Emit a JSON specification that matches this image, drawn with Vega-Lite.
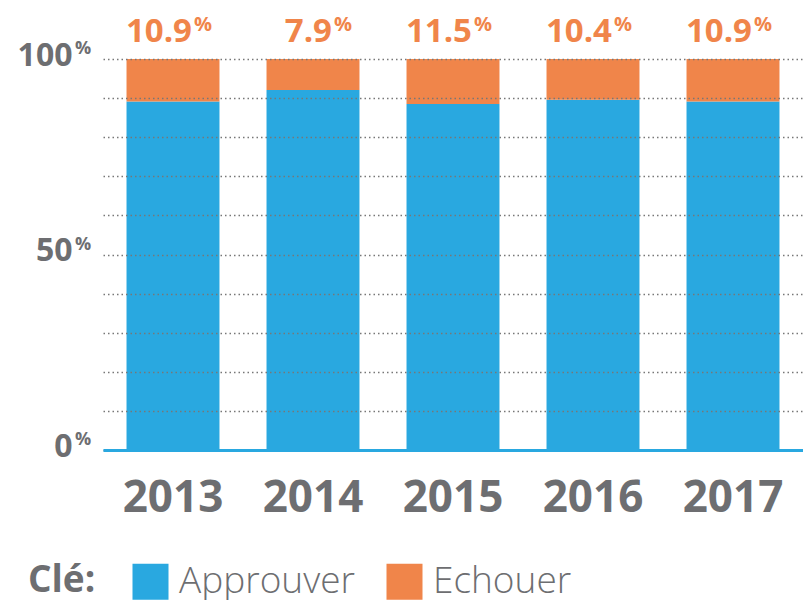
{
  "$schema": "https://vega.github.io/schema/vega-lite/v6.json",
  "width": 700,
  "height": 391,
  "autosize": "none",
  "padding": {"left": 103, "top": 59, "right": 0, "bottom": 150},
  "background": "white",
  "config": {"view": {"stroke": null}, "font": "Open Sans"},
  "datasets": {
    "bars": [
      {"year": "2013", "status": "Approuver", "value": 89.1},
      {"year": "2013", "status": "Echouer", "value": 10.9},
      {"year": "2014", "status": "Approuver", "value": 92.1},
      {"year": "2014", "status": "Echouer", "value": 7.9},
      {"year": "2015", "status": "Approuver", "value": 88.5},
      {"year": "2015", "status": "Echouer", "value": 11.5},
      {"year": "2016", "status": "Approuver", "value": 89.6},
      {"year": "2016", "status": "Echouer", "value": 10.4},
      {"year": "2017", "status": "Approuver", "value": 89.1},
      {"year": "2017", "status": "Echouer", "value": 10.9}
    ],
    "ticks": [{"tick": 0}, {"tick": 50}, {"tick": 100}]
  },
  "layer": [
    {
      "data": {"name": "bars"},
      "mark": {"type": "bar"},
      "encoding": {
        "x": {
          "field": "year", "type": "nominal",
          "scale": {"paddingInner": 0.336, "paddingOuter": 0.168},
          "axis": {"title": null, "labelAngle": 0, "labelFont": "Open Sans", "labelFontWeight": "bold", "labelFontSize": 44, "labelColor": "#6d6e71", "labelPadding": 26, "ticks": false, "domainColor": "#29a8e0", "domainWidth": 3, "zindex": 1}
        },
        "y": {
          "field": "value", "type": "quantitative", "stack": "zero",
          "scale": {"domain": [0, 100], "nice": false},
          "axis": {"title": null, "values": [0, 10, 20, 30, 40, 50, 60, 70, 80, 90, 100], "labelExpr": "datum.value % 50 == 0 ? datum.label : ''", "labelOverlap": false, "domain": false, "ticks": false, "gridDash": [1.5, 3], "gridColor": "#777777", "gridWidth": 1.3, "labelFontSize": 32, "labelFontWeight": "bold", "labelColor": "#6d6e71", "labelPadding": 31, "labelOffset": -4, "zindex": 1}
        },
        "color": {
          "field": "status", "type": "nominal",
          "scale": {"domain": ["Approuver", "Echouer"], "range": ["#29a8e0", "#f0854a"]},
          "legend": {"orient": "none", "legendX": -75, "legendY": 504, "direction": "horizontal", "title": "Clé:", "titleOrient": "left", "titleFontSize": 37, "titleFontWeight": "bold", "titleColor": "#6d6e71", "titlePadding": 36, "symbolType": "square", "symbolSize": 1296, "symbolStrokeWidth": 0, "symbolOpacity": 1, "labelFontSize": 37, "labelFontWeight": 300, "labelColor": "#6d6e71", "labelOffset": 10, "columnPadding": 31, "padding": 0, "labelLimit": 300}
        },
        "order": {"field": "status", "sort": "ascending"}
      }
    },
    {
      "data": {"name": "bars"},
      "transform": [{"filter": "datum.status == 'Echouer'"}],
      "mark": {"type": "text", "font": "Open Sans", "fontWeight": "bold", "fontSize": 33, "color": "#f0854a", "dx": 19, "dy": -27, "baseline": "middle", "align": "right"},
      "encoding": {
        "x": {
          "field": "year", "type": "nominal",
          "axis": {"title": null, "labelAngle": 0, "labelFont": "Open Sans", "labelFontWeight": "bold", "labelFontSize": 44, "labelColor": "#6d6e71", "labelPadding": 26, "ticks": false, "domainColor": "#29a8e0", "domainWidth": 3, "zindex": 1}
        },
        "y": {
          "datum": 100, "type": "quantitative",
          "axis": {"title": null, "values": [0, 10, 20, 30, 40, 50, 60, 70, 80, 90, 100], "labelExpr": "datum.value % 50 == 0 ? datum.label : ''", "labelOverlap": false, "domain": false, "ticks": false, "gridDash": [1.5, 3], "gridColor": "#777777", "gridWidth": 1.3, "labelFontSize": 32, "labelFontWeight": "bold", "labelColor": "#6d6e71", "labelPadding": 31, "labelOffset": -4, "zindex": 1}
        },
        "text": {"field": "value", "type": "quantitative", "format": ".1f"}
      }
    },
    {
      "data": {"name": "bars"},
      "transform": [{"filter": "datum.status == 'Echouer'"}],
      "mark": {"type": "text", "font": "Open Sans", "fontWeight": "bold", "fontSize": 20, "color": "#f0854a", "dx": 21, "dy": -34, "baseline": "middle", "align": "left", "text": "%"},
      "encoding": {
        "x": {
          "field": "year", "type": "nominal",
          "axis": {"title": null, "labelAngle": 0, "labelFont": "Open Sans", "labelFontWeight": "bold", "labelFontSize": 44, "labelColor": "#6d6e71", "labelPadding": 26, "ticks": false, "domainColor": "#29a8e0", "domainWidth": 3, "zindex": 1}
        },
        "y": {
          "datum": 100, "type": "quantitative",
          "axis": {"title": null, "values": [0, 10, 20, 30, 40, 50, 60, 70, 80, 90, 100], "labelExpr": "datum.value % 50 == 0 ? datum.label : ''", "labelOverlap": false, "domain": false, "ticks": false, "gridDash": [1.5, 3], "gridColor": "#777777", "gridWidth": 1.3, "labelFontSize": 32, "labelFontWeight": "bold", "labelColor": "#6d6e71", "labelPadding": 31, "labelOffset": -4, "zindex": 1}
        }
      }
    },
    {
      "data": {"name": "ticks"},
      "mark": {"type": "text", "font": "Open Sans", "fontWeight": "bold", "fontSize": 18, "color": "#6d6e71", "dy": -10, "baseline": "middle", "align": "left", "text": "%"},
      "encoding": {
        "x": {"value": -28},
        "y": {
          "field": "tick", "type": "quantitative",
          "axis": {"title": null, "values": [0, 10, 20, 30, 40, 50, 60, 70, 80, 90, 100], "labelExpr": "datum.value % 50 == 0 ? datum.label : ''", "labelOverlap": false, "domain": false, "ticks": false, "gridDash": [1.5, 3], "gridColor": "#777777", "gridWidth": 1.3, "labelFontSize": 32, "labelFontWeight": "bold", "labelColor": "#6d6e71", "labelPadding": 31, "labelOffset": -4, "zindex": 1}
        }
      }
    }
  ]
}
